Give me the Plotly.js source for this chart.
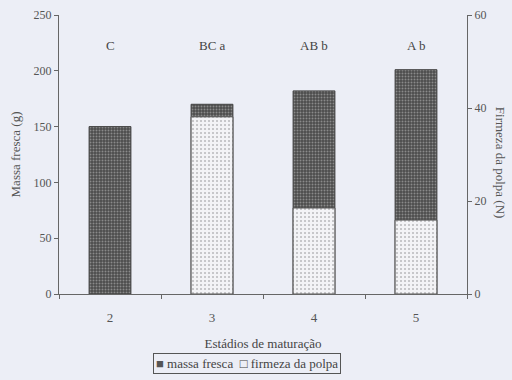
<!DOCTYPE html>
<html><head><meta charset="utf-8">
<script src="https://cdn.plot.ly/plotly-3.0.1.min.js"></script>
<style>html,body{margin:0;padding:0;background:#eceef6;}#chart{width:512px;height:380px;}</style>
</head><body><div id="chart"></div>
<script>
const stages = ['2', '3', '4', '5'];
const massaFresca = [150, 170, 182, 201];
const firmezaPolpa = [null, 38.1, 18.5, 15.9];
const letters = ['C', 'BC a', 'AB b', 'A b'];
const letterY = 223;

const fontFam = 'Liberation Serif, Times New Roman, serif';
const txt = '#555';

const traces = [
  {
    type: 'bar', x: stages, y: massaFresca, name: 'massa fresca', yaxis: 'y',
    width: 0.41, showlegend: false,
    marker: {color: '#505050', line: {color: '#444', width: 1},
      pattern: {shape: '.', fgcolor: '#8a8a8a', bgcolor: '#4c4c4c', size: 3, solidity: 0.35}}
  },
  {
    type: 'bar', x: stages, y: firmezaPolpa, name: 'firmeza da polpa', yaxis: 'y2',
    width: 0.41, showlegend: false,
    marker: {color: '#f2f2f5', line: {color: '#555', width: 1},
      pattern: {shape: '.', fgcolor: '#b8b8bc', bgcolor: '#f3f3f6', size: 4, solidity: 0.2}}
  }
];

const annotations = stages.map((s, i) => ({
  x: i, y: letterY, xref: 'x', yref: 'y', text: letters[i], showarrow: false,
  font: {family: fontFam, size: 13, color: '#444'}
}));
annotations.push({
  xref: 'paper', yref: 'paper', x: 1.081, y: 0.47, text: 'Firmeza da polpa (N)',
  textangle: 90, showarrow: false, xanchor: 'center', yanchor: 'middle',
  font: {family: fontFam, size: 13, color: txt}
});
annotations.push({
  xref: 'paper', yref: 'paper', x: 0.46, y: -0.213, xanchor: 'center', yanchor: 'top',
  text: '<span style="color:#555">■</span> massa fresca  □ firmeza da polpa',
  showarrow: false, bordercolor: '#555', borderwidth: 1, borderpad: 2,
  font: {family: fontFam, size: 13, color: '#444'}
});

const layout = {
  width: 512, height: 380,
  paper_bgcolor: '#eceef6', plot_bgcolor: '#eceef6',
  margin: {l: 59, r: 45, t: 15, b: 86},
  barmode: 'overlay',
  showlegend: false,
  font: {family: fontFam, color: txt, size: 12},
  xaxis: {
    type: 'category', range: [-0.5, 3.5],
    showline: true, linecolor: '#666', linewidth: 1,
    ticks: 'outside', tickson: 'boundaries', ticklen: 4, tickcolor: '#666',
    ticklabelstandoff: 11,
    showgrid: false, zeroline: false,
    tickfont: {family: fontFam, size: 13, color: txt},
    title: {text: 'Estádios de maturação', font: {family: fontFam, size: 13, color: '#444'}, standoff: 15}
  },
  yaxis: {
    range: [0, 250], tickvals: [0, 50, 100, 150, 200, 250],
    showline: true, linecolor: '#666', linewidth: 1,
    ticks: 'outside', ticklen: 4, tickcolor: '#666',
    showgrid: false, zeroline: false,
    tickfont: {family: fontFam, size: 12, color: txt},
    title: {text: 'Massa fresca (g)', font: {family: fontFam, size: 13, color: txt}, standoff: 10}
  },
  yaxis2: {
    overlaying: 'y', side: 'right', range: [0, 60], tickvals: [0, 20, 40, 60],
    showline: true, linecolor: '#666', linewidth: 1,
    ticks: 'outside', ticklen: 4, tickcolor: '#666',
    showgrid: false, zeroline: false,
    tickfont: {family: fontFam, size: 12, color: txt}
  },
  annotations: annotations
};

Plotly.newPlot('chart', traces, layout, {displayModeBar: false, staticPlot: true});
</script>
</body></html>
